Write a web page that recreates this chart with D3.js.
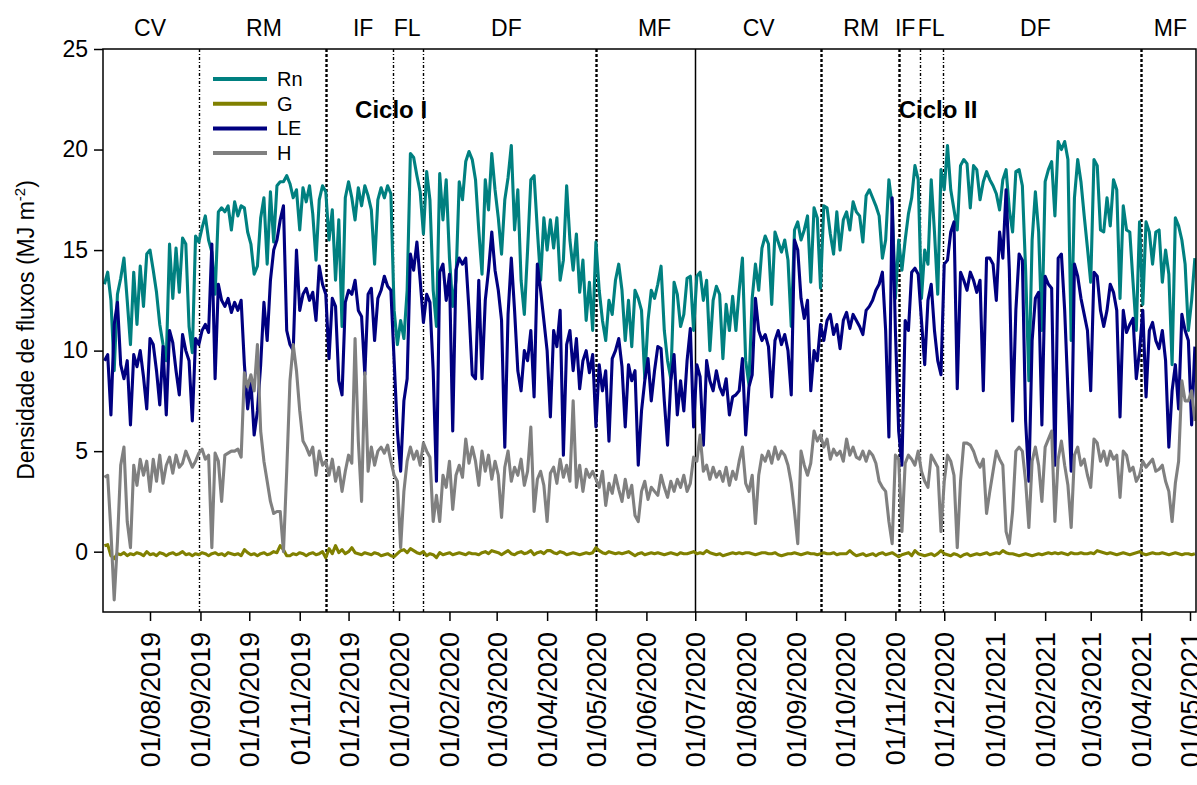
<!DOCTYPE html>
<html><head><meta charset="utf-8">
<script src="https://cdn.jsdelivr.net/npm/d3@7"></script>
<style>body{margin:0;background:#fff} text{font-family:Arial,"Liberation Sans",sans-serif;fill:#000}</style>
</head><body><svg id="c" width="1197" height="785"></svg>
<script>
// ---- data (daily fluxes sampled every 2 days, MJ m-2) ----
const startDate = "2019-07-04";
const stepDays = 2;
const rn = [13.3,13.9,12.5,9.0,12.8,13.6,14.6,12.5,10.3,13.9,11.3,14.2,12.2,14.8,15.0,14.0,12.9,11.3,10.3,9.5,15.3,12.6,15.1,12.9,15.6,15.3,11.2,9.9,15.7,15.4,16.1,16.7,15.5,14.9,12.8,16.9,17.1,16.9,17.2,16.0,17.4,16.7,17.2,17.1,15.9,15.3,13.8,14.2,16.6,17.6,14.3,17.9,15.4,18.2,18.4,18.4,18.7,
18.3,17.6,18.0,16.0,18.1,17.4,18.2,16.8,14.5,17.5,18.2,17.9,15.5,17.0,13.5,16.5,11.2,17.6,18.4,17.6,16.5,18.1,17.2,18.2,17.7,17.0,14.3,17.5,18.1,17.6,18.2,17.8,12.0,10.3,11.5,10.6,13.0,19.8,19.6,18.7,17.9,15.8,18.9,17.5,13.0,11.2,18.8,16.5,18.5,14.6,12.2,13.5,18.4,17.5,19.4,19.9,19.5,
18.5,16.0,13.8,18.5,17.0,19.8,18.0,16.6,14.8,17.5,18.6,20.2,16.0,18.0,13.5,11.8,15.0,18.5,18.7,16.0,13.5,16.6,15.0,16.5,15.1,16.6,13.5,14.5,18.2,15.5,14.0,15.8,12.9,14.5,11.5,13.4,11.0,15.4,13.0,11.5,10.5,12.5,11.8,13.5,14.3,13.0,10.5,12.5,10.2,13.0,12.6,12.0,8.6,11.5,13.0,12.6,13.3,
14.2,11.0,9.5,8.6,13.4,12.8,11.2,11.8,13.6,13.7,11.0,13.7,13.9,12.5,13.5,10.0,12.5,13.2,12.8,9.6,12.3,11.0,12.7,11.0,13.0,14.6,9.5,8.3,12.6,14.3,13.0,15.1,15.7,15.3,12.3,15.9,15.4,14.9,15.5,14.5,11.2,16.0,16.4,15.5,16.0,16.7,13.4,17.1,16.6,13.1,17.2,17.1,15.8,14.8,16.9,15.0,16.5,
16.9,16.0,17.4,16.9,16.7,15.4,17.7,18.0,17.6,17.2,16.7,14.6,15.5,18.5,17.2,12.6,15.5,14.0,15.5,16.8,17.6,19.2,18.5,12.6,15.0,14.3,18.5,15.9,12.8,19.0,18.0,20.2,18.0,17.0,16.0,19.2,19.5,19.3,17.1,19.2,19.0,17.5,18.4,18.9,18.5,18.2,17.8,17.0,18.5,19.0,17.0,15.9,18.9,19.0,18.2,14.0,8.5,
15.5,17.9,15.9,11.0,18.4,19.0,19.4,16.7,20.4,20.0,20.4,19.5,10.5,17.6,19.5,18.4,16.7,15.1,13.4,19.5,19.2,16.0,15.9,17.6,16.2,18.5,18.0,12.6,17.2,16.0,15.9,13.4,11.0,16.4,12.3,16.4,15.9,14.3,15.9,16.0,13.4,15.0,13.8,9.3,16.6,16.2,15.5,14.3,11.0,12.5,14.6];
const g = [0.3,0.35,-0.2,-0.35,-0.1,-0.15,-0.05,-0.2,-0.1,-0.15,-0.05,-0.1,-0.2,0.0,-0.15,-0.1,-0.2,-0.05,-0.1,-0.2,-0.1,-0.05,-0.15,-0.1,0.0,-0.15,-0.1,-0.2,-0.1,-0.15,-0.05,-0.1,-0.2,-0.1,-0.05,-0.15,-0.1,-0.2,-0.05,-0.1,-0.15,-0.1,-0.2,0.1,-0.05,-0.15,-0.1,-0.2,-0.1,-0.05,-0.15,-0.1,0.0,-0.05,0.3,0.1,-0.2,
-0.2,-0.1,-0.15,-0.05,-0.1,-0.2,-0.1,-0.05,-0.15,-0.1,0.0,-0.3,0.15,-0.1,0.3,-0.05,0.1,-0.1,0.0,0.2,-0.05,-0.1,-0.15,-0.05,-0.1,-0.15,-0.05,-0.1,-0.2,-0.15,-0.1,-0.2,-0.25,-0.1,0.05,0.1,-0.05,0.15,0.05,-0.05,-0.1,0.0,-0.2,-0.1,-0.15,-0.3,-0.05,-0.15,-0.1,-0.05,-0.15,-0.1,-0.05,-0.1,-0.15,-0.05,-0.1,
-0.1,-0.15,-0.05,0.0,-0.1,0.05,0.0,-0.05,-0.15,-0.05,0.05,-0.1,-0.15,-0.05,0.0,-0.1,-0.05,0.05,-0.15,-0.05,0.0,-0.1,0.05,0.05,-0.05,-0.1,0.0,-0.05,-0.15,-0.1,-0.05,-0.1,-0.15,-0.1,-0.05,-0.1,-0.05,0.2,0.05,-0.05,-0.1,0.0,-0.05,-0.1,-0.05,-0.1,-0.05,0.0,-0.1,-0.2,-0.1,-0.05,-0.15,-0.1,-0.05,-0.1,-0.05,
-0.1,-0.15,-0.1,-0.05,-0.1,-0.15,-0.05,-0.1,-0.1,-0.05,0.0,-0.1,-0.05,-0.1,0.05,-0.05,-0.1,-0.15,-0.1,-0.2,-0.15,-0.1,-0.05,-0.1,-0.05,-0.1,-0.05,-0.05,-0.1,-0.15,-0.1,-0.05,-0.05,-0.1,-0.1,-0.05,-0.15,-0.2,-0.15,-0.1,-0.1,-0.05,-0.1,-0.15,-0.1,-0.05,-0.1,-0.1,-0.15,-0.1,-0.05,-0.1,-0.1,-0.05,-0.15,-0.1,-0.1,
-0.1,0.05,-0.1,-0.2,-0.15,-0.1,-0.2,-0.15,-0.1,-0.2,-0.1,-0.05,-0.15,-0.1,-0.05,-0.15,-0.25,-0.15,-0.1,-0.05,-0.2,0.05,-0.1,-0.15,-0.2,-0.15,-0.1,-0.2,-0.1,0.05,-0.1,-0.15,-0.2,-0.1,-0.15,-0.25,-0.15,-0.1,-0.2,-0.15,-0.1,-0.15,-0.1,-0.05,-0.15,-0.1,-0.05,-0.1,0.05,-0.05,-0.1,-0.1,-0.15,-0.2,-0.15,-0.1,-0.15,
-0.2,-0.15,-0.1,-0.15,-0.1,-0.05,-0.1,-0.05,-0.1,-0.05,-0.1,-0.15,-0.05,-0.1,-0.1,-0.05,-0.1,-0.1,-0.05,-0.1,0.05,0.0,-0.05,-0.1,-0.05,-0.1,-0.15,-0.1,-0.05,-0.1,-0.15,-0.1,-0.05,0.0,-0.1,-0.15,-0.1,-0.05,-0.1,-0.1,-0.05,-0.1,-0.15,-0.1,-0.05,-0.1,-0.15,-0.1,-0.1,-0.15,-0.1];
const le = [9.5,9.8,6.8,11.3,12.4,9.3,8.6,9.5,6.3,9.8,9.2,10.0,8.7,7.1,10.6,10.3,9.0,7.3,10.2,6.8,11.0,10.4,9.0,7.8,10.8,10.0,9.5,6.5,10.6,10.3,11.0,11.3,10.9,15.3,8.6,13.3,12.5,12.2,12.6,11.9,12.4,12.0,12.5,9.3,7.1,8.5,5.8,7.0,9.3,12.4,10.5,13.5,15.0,15.5,16.5,17.2,11.0,
10.3,10.0,15.0,12.0,12.8,13.1,12.5,12.9,11.5,14.2,13.3,12.8,9.6,12.6,12.2,8.5,7.8,12.4,13.0,12.8,13.5,12.0,11.7,8.8,12.8,13.1,10.5,12.6,13.0,13.7,13.2,13.0,9.5,6.0,4.0,7.5,8.6,14.8,14.0,15.4,13.5,11.4,12.8,12.4,9.0,3.5,13.9,14.3,12.5,13.8,6.0,14.0,14.6,14.3,14.6,12.0,8.8,
8.6,13.5,8.6,12.5,14.0,15.9,14.0,13.0,11.5,5.2,11.8,14.6,12.0,9.0,8.0,10.0,9.5,11.0,7.7,14.3,13.0,11.5,10.0,6.7,11.0,10.2,12.0,4.8,10.3,11.0,9.0,10.6,8.1,9.5,10.0,8.9,9.8,6.2,9.3,8.0,9.0,5.5,9.6,10.0,10.6,9.2,6.2,9.3,8.5,9.0,4.3,7.0,8.5,9.6,7.5,9.0,10.2,
10.1,7.5,5.3,8.5,9.8,6.8,8.5,7.0,9.5,11.1,6.2,9.3,8.7,5.3,9.5,8.5,8.0,9.0,8.2,7.8,8.6,6.8,7.7,7.8,8.0,9.6,5.8,8.2,8.8,12.6,11.0,10.5,10.8,10.2,7.7,10.5,11.0,10.3,10.8,10.0,7.8,15.5,15.0,12.6,11.6,12.5,8.0,10.0,9.5,11.3,10.5,11.5,11.8,10.8,11.3,10.1,11.5,
11.9,11.1,11.8,11.5,11.2,10.8,12.0,12.2,12.5,13.0,13.3,13.9,11.0,5.7,17.6,11.0,6.0,4.3,11.5,11.0,13.9,14.1,13.8,11.5,9.3,12.5,13.3,11.0,9.5,8.8,14.3,14.5,15.9,16.4,8.1,13.9,13.5,13.0,13.9,13.5,12.9,13.5,8.0,14.6,14.6,14.3,12.5,15.9,14.6,18.0,14.0,6.5,12.0,14.8,14.5,6.5,3.5,
10.5,12.6,12.9,6.3,13.7,13.3,13.1,4.3,14.6,14.8,12.0,8.0,4.0,14.3,13.7,12.6,11.8,11.0,8.0,13.9,13.7,12.0,11.2,12.0,13.3,12.9,12.0,6.7,12.0,10.9,11.3,11.6,8.6,10.0,12.0,7.7,11.0,11.4,10.5,10.1,11.0,9.5,5.2,8.0,9.3,7.1,11.8,11.0,10.5,6.3,10.2];
const h = [3.7,3.8,1.0,-2.4,0.5,4.3,5.2,1.5,0.2,4.3,3.3,4.6,3.8,4.5,3.0,4.6,3.5,4.8,3.4,4.3,4.7,3.9,4.8,4.2,4.4,5.0,4.6,4.2,4.5,4.9,5.1,4.6,4.8,0.2,4.9,4.5,2.5,4.8,4.9,5.0,5.0,5.1,4.7,8.9,8.2,8.8,8.0,10.3,6.0,4.5,3.5,2.5,1.9,2.0,2.0,0.0,4.0,
8.5,10.3,9.0,7.0,5.5,5.2,4.8,5.2,3.8,5.0,4.3,4.5,3.8,4.6,3.5,4.2,3.0,4.0,4.8,4.4,10.6,5.5,2.5,8.9,4.0,5.2,4.3,5.0,5.2,4.9,5.3,4.5,3.8,3.5,0.2,3.0,4.5,5.2,4.6,5.0,4.3,5.4,5.0,4.7,1.5,2.8,1.5,3.8,3.2,4.5,2.1,3.8,4.3,3.7,5.6,4.4,5.2,
4.5,3.3,5.0,4.0,4.8,3.6,4.5,3.8,1.7,4.2,5.0,3.5,4.2,3.8,4.6,3.3,4.0,6.2,2.0,3.6,4.0,3.3,1.5,3.9,4.2,3.4,4.6,3.7,4.3,3.5,7.5,3.2,4.3,3.0,4.1,3.7,4.0,3.6,3.2,4.0,2.3,3.4,2.9,3.8,3.1,2.5,3.6,2.7,3.3,1.8,1.5,3.0,3.5,2.6,3.2,3.0,2.8,
3.8,3.2,2.7,3.5,3.0,3.6,3.2,3.8,3.0,3.4,4.7,4.5,5.8,4.0,4.3,3.6,4.2,3.7,4.0,3.5,4.2,3.3,4.0,3.6,4.5,5.2,3.4,3.0,3.8,1.4,3.8,4.8,4.5,5.0,4.4,5.2,4.6,5.0,4.8,4.3,3.4,2.0,0.4,5.0,4.3,3.8,4.4,6.0,5.5,5.8,5.2,5.6,4.6,5.1,4.8,5.0,4.5,
5.6,4.8,5.2,4.7,4.6,5.0,4.5,5.0,4.8,4.4,3.5,3.2,3.0,1.5,0.4,4.8,4.6,1.0,4.4,4.8,4.6,4.3,5.0,4.0,3.5,3.2,4.8,4.5,4.2,1.0,3.5,4.8,4.5,3.8,0.2,3.5,5.4,5.4,5.3,5.0,4.5,4.2,4.6,1.9,3.0,4.0,5.0,4.6,4.3,1.0,0.4,2.0,5.0,5.2,5.0,3.5,1.2,
4.5,5.2,4.3,2.5,5.2,5.6,6.0,1.5,4.6,5.5,4.3,3.3,1.2,4.8,5.2,4.3,4.6,3.8,3.2,5.6,5.4,4.5,5.0,4.3,5.0,4.6,4.8,2.7,5.0,4.8,4.0,4.2,3.5,3.8,4.5,4.2,4.4,4.6,4.0,4.1,4.3,3.5,3.0,1.5,3.4,4.5,8.5,7.5,7.5,8.0,6.5];

const seriesNames = ["Rn","G","LE","H"];
const seriesColors = ["#008080","#808000","#000080","#808080"];
const tickDates = ["2019-08-01","2019-09-01","2019-10-01","2019-11-01","2019-12-01","2020-01-01","2020-02-01","2020-03-01","2020-04-01","2020-05-01","2020-06-01","2020-07-01","2020-08-01","2020-09-01","2020-10-01","2020-11-01","2020-12-01","2021-01-01","2021-02-01","2021-03-01","2021-04-01","2021-05-01"];
const yTicks = [0,5,10,15,20,25];
const phaseLineDates = ["2019-08-31","2019-11-17","2019-12-28","2020-01-16","2020-05-01","2020-07-01","2020-09-16","2020-11-03","2020-11-16","2020-11-30","2021-04-01"];
const phaseLineKinds = ["thin","thick","thin","thin","thick","solid","thick","thick","thin","thin","thick"];
const phaseNames = ["CV","RM","IF","FL","DF","MF","CV","RM","IF","FL","DF","MF"];
const phaseNameDates = ["2019-08-01","2019-10-10","2019-12-10","2020-01-06","2020-03-07","2020-06-06","2020-08-09","2020-10-11","2020-11-07","2020-11-23","2021-01-26","2021-04-19"];
const cycleNames = ["Ciclo I","Ciclo II"];
const cycleDates = ["2019-12-05","2020-11-03"];

// ---- drawing ----
const svg = d3.select("#c");
const parse = d3.utcParse("%Y-%m-%d");
const L = 103, R = 1196, T = 49, B = 612;
const x = d3.scaleUtc().domain([parse("2019-08-01"), parse("2021-05-01")]).range([150, 1190]);
const y = d3.scaleLinear().domain([-3, 25]).range([B, T]);
const t0 = parse(startDate);
const n = Math.min(rn.length, g.length, le.length, h.length);
const dates = d3.range(n).map(i => d3.utcDay.offset(t0, i * stepDays));

svg.append("defs").append("clipPath").attr("id","clip")
  .append("rect").attr("x", L).attr("y", T).attr("width", R - L).attr("height", B - T);

// phase lines
const pl = svg.append("g");
phaseLineDates.forEach((d, i) => {
  const k = phaseLineKinds[i];
  const xx = Math.round(x(parse(d))) + 0.5;
  pl.append("line").attr("x1", xx).attr("x2", xx).attr("y1", T).attr("y2", B)
    .attr("stroke", "#000")
    .attr("stroke-width", k === "thick" ? 2.4 : (k === "solid" ? 1.5 : 1.4))
    .attr("stroke-dasharray", k === "solid" ? null : (k === "thick" ? "3,2" : "3,2,1,2"));
});

// series
const all = [rn, g, le, h];
const lineGen = arr => d3.line().x((d, i) => x(dates[i])).y(d => y(d))(arr.slice(0, n));
const lg = svg.append("g").attr("clip-path", "url(#clip)");
all.forEach((arr, k) => {
  lg.append("path").attr("d", lineGen(arr)).attr("fill", "none")
    .attr("stroke", seriesColors[k]).attr("stroke-width", 3.1).attr("stroke-linejoin", "round");
});

// frame
svg.append("rect").attr("x", L).attr("y", T).attr("width", R - L).attr("height", B - T)
  .attr("fill", "none").attr("stroke", "#000").attr("stroke-width", 1.5);

// x axis
const xa = svg.append("g").attr("transform", `translate(0,${B})`)
  .call(d3.axisBottom(x).tickValues(tickDates.map(parse)).tickSize(9).tickFormat(d3.utcFormat("%d/%m/%Y")));
xa.select(".domain").remove();
xa.selectAll("line").attr("stroke-width", 1.5);
xa.selectAll("text").attr("font-size", 27).attr("transform", "rotate(-90)")
  .attr("x", -20).attr("y", 0).attr("dy", "0.35em").attr("text-anchor", "end");

// y axis
const ya = svg.append("g").attr("transform", `translate(${L},0)`)
  .call(d3.axisLeft(y).tickValues(yTicks).tickSize(9).tickPadding(6));
ya.select(".domain").remove();
ya.selectAll("line").attr("stroke-width", 1.5);
ya.selectAll("text").attr("font-size", 23);

// y title
const yt = svg.append("text").attr("transform", "translate(34,330) rotate(-90)")
  .attr("text-anchor", "middle").attr("font-size", 23);
yt.append("tspan").text("Densidade de fluxos (MJ m");
yt.append("tspan").text("-2").attr("font-size", 15).attr("dy", -9);
yt.append("tspan").text(")").attr("dy", 9);

// phase names
phaseNames.forEach((p, i) => {
  svg.append("text").attr("x", x(parse(phaseNameDates[i]))).attr("y", 36)
    .attr("text-anchor", "middle").attr("font-size", 23).text(p);
});

// cycles
cycleNames.forEach((c, i) => {
  svg.append("text").attr("x", x(parse(cycleDates[i]))).attr("y", 118)
    .attr("font-size", 24).attr("font-weight", "bold").text(c);
});

// legend
seriesNames.forEach((s, i) => {
  const yy = 79 + i * 24.7;
  svg.append("line").attr("x1", 213).attr("x2", 267).attr("y1", yy).attr("y2", yy)
    .attr("stroke", seriesColors[i]).attr("stroke-width", 4);
  svg.append("text").attr("x", 277).attr("y", yy).attr("dy", "0.35em").attr("font-size", 20).text(s);
});
</script></body></html>
